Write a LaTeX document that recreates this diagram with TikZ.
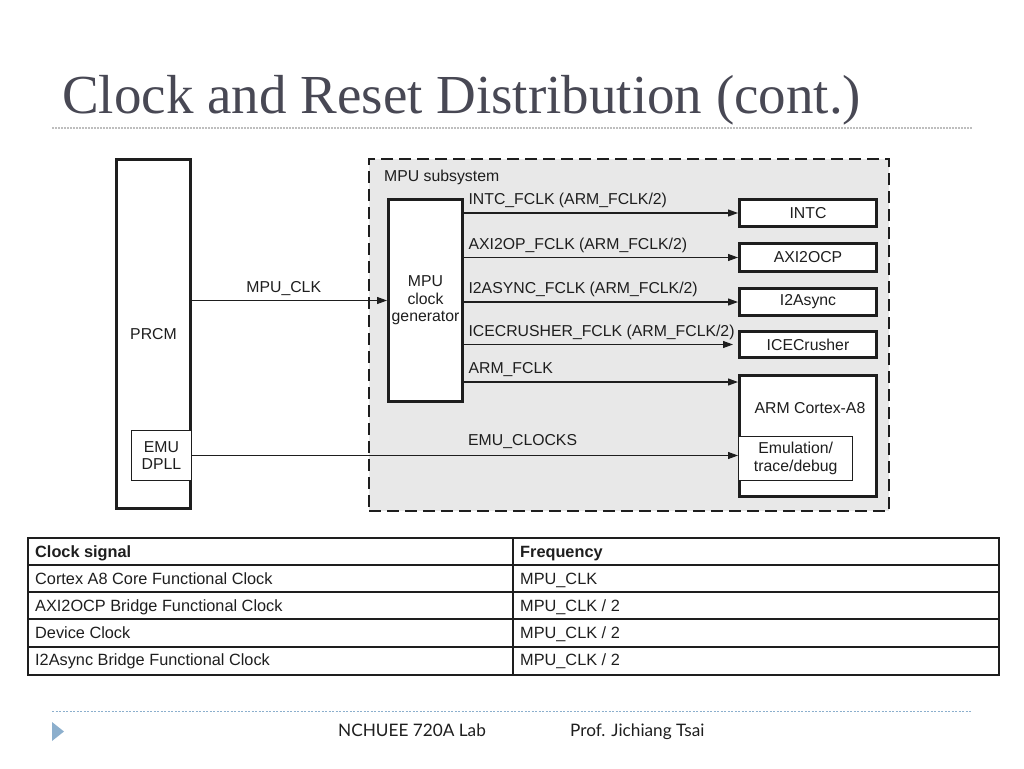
\documentclass[tikz,border=0pt]{standalone}
\usepackage{fontspec}
\setmainfont{Liberation Sans}
\newfontfamily\titlefont{Liberation Serif}
\newfontfamily\footfont{Lato}
\usetikzlibrary{positioning,calc,arrows.meta}

\definecolor{titlegray}{RGB}{72,72,84}
\definecolor{rulegray}{RGB}{190,190,190}
\definecolor{footblue}{RGB}{140,175,205}
\definecolor{subgray}{RGB}{232,232,232}
\definecolor{inkgray}{RGB}{30,30,30}

\begin{document}
\begin{tikzpicture}[x=1pt,y=-1pt,
    box/.style={draw=inkgray,line width=3pt,fill=white,inner sep=0pt,align=center,
        font=\fontsize{15.8}{17.5}\selectfont,text=inkgray},
    thin box/.style={box,line width=1.4pt},
    sig/.style={draw=inkgray,line width=1.1pt,-{Triangle[length=10pt,width=7pt]}},
    sig label/.style={pos=0,anchor=base west,xshift=4pt,yshift=8.5pt,inner sep=0pt,
        font=\fontsize{15.8}{17.5}\selectfont,text=inkgray},
    cell/.style={anchor=base west,inner sep=0pt,font=\fontsize{16.3}{18}\selectfont,text=inkgray}]
    \useasboundingbox (0,0) rectangle (1024,768);

    % title
    \node[anchor=base west,inner sep=0pt,text=titlegray,font=\titlefont\fontsize{55}{60}\selectfont]
        (title) at (62,113) {Clock and Reset Distribution (cont.)};
    \draw[rulegray,line width=1.2pt,dash pattern=on 1.5pt off 1.5pt] (52,128) -- (972,128);

    % PRCM side
    \node[box,minimum width=74pt,minimum height=349pt] (prcm) at (153.5,334) {PRCM};
    \node[thin box,minimum width=59.6pt,minimum height=49.6pt,align=center]
        (emu) [above left=29pt and 0pt of prcm.south east] {EMU\\DPLL};

    % MPU subsystem
    \node[draw=inkgray,fill=subgray,line width=2pt,dash pattern=on 12pt off 6pt,
        minimum width=520pt,minimum height=352pt] (sub) at (629,335) {};
    \node[cell,font=\fontsize{15.8}{17.5}\selectfont] (subname) at (384,181.5) {MPU subsystem};
    \node[box,minimum width=74pt,minimum height=202pt] (gen) at (425.5,300.5) {MPU\\clock\\generator};

    \node[box,minimum width=137pt,minimum height=27pt] (intc) at (808,213) {INTC};
    \node[box,minimum width=137pt,minimum height=28pt] (axi) [below=14pt of intc] {AXI2OCP};
    \node[box,minimum width=137pt,minimum height=27pt] (async) [below=14pt of axi] {I2Async};
    \node[box,minimum width=137pt,minimum height=26pt] (ice) [below=13pt of async] {ICECrusher};
    \node[box,minimum width=137pt,minimum height=121pt] (arm) [below=15pt of ice] {};
    \node[inner sep=0pt,font=\fontsize{15.8}{17.5}\selectfont,text=inkgray]
        (armname) at ($(arm.north)+(2,34)$) {ARM Cortex-A8};
    \node[thin box,minimum width=114pt,minimum height=44pt,anchor=west]
        (emul) at ($(arm.west)+(0,22.5)$) {Emulation/\\trace/debug};
    \coordinate (armin) at ($(arm.north west)+(0,8)$);

    % clocks
    \draw[sig] (prcm.east |- gen) -- node[sig label,pos=0.45,anchor=base,xshift=0pt]{MPU\_CLK} (gen.west);
    \draw[sig] (gen.east |- intc) -- node[sig label]{INTC\_FCLK (ARM\_FCLK/2)} (intc.west);
    \draw[sig] (gen.east |- axi) -- node[sig label]{AXI2OP\_FCLK (ARM\_FCLK/2)} (axi.west);
    \draw[sig] (gen.east |- async) -- node[sig label]{I2ASYNC\_FCLK (ARM\_FCLK/2)} (async.west);
    \draw[sig,shorten >=5pt] (gen.east |- ice) -- node[sig label]{ICECRUSHER\_FCLK (ARM\_FCLK/2)} (ice.west);
    \draw[sig] (gen.east |- armin) -- node[sig label]{ARM\_FCLK} (armin);
    \draw[sig] (emu.east) -- (emu.east -| arm.west);
    \node[cell,font=\fontsize{15.8}{17.5}\selectfont] (emuname) at (468,445.5) {EMU\_CLOCKS};

    % table
    \draw[inkgray,line width=1.4pt] (28,538) rectangle (999,675);
    \draw[inkgray,line width=1.2pt] (513,538) -- (513,675);
    \foreach \y in {565,592,619,647}
        \draw[inkgray,line width=1.2pt] (28,\y) -- (999,\y);
    \node[cell,font=\bfseries\fontsize{16.3}{18}\selectfont] (hsig) at (35,557) {Clock signal};
    \node[cell,font=\bfseries\fontsize{16.3}{18}\selectfont] (hfreq) at (520,557) {Frequency};
    \foreach \y/\sig/\freq in {584/{Cortex A8 Core Functional Clock}/{MPU\_CLK},
        611/{AXI2OCP Bridge Functional Clock}/{MPU\_CLK / 2},
        638/{Device Clock}/{MPU\_CLK / 2},
        665.5/{I2Async Bridge Functional Clock}/{MPU\_CLK / 2}} {
        \node[cell] at (35,\y) {\sig};
        \node[cell] at (520,\y) {\freq};
    }

    % footer
    \draw[footblue,line width=1pt,dash pattern=on 2pt off 1.5pt] (52,711) -- (972,711);
    \fill[footblue] (52,722) -- (64,731.5) -- (52,741) -- cycle;
    \node[anchor=base west,inner sep=0pt,font=\footfont\fontsize{17.2}{20}\selectfont,text=inkgray]
        (lab) at (338,736) {NCHUEE 720A Lab};
    \node[anchor=base west,inner sep=0pt,font=\footfont\fontsize{17.2}{20}\selectfont,text=inkgray]
        (prof) at (570,736) {Prof. Jichiang Tsai};
\end{tikzpicture}
\end{document}
